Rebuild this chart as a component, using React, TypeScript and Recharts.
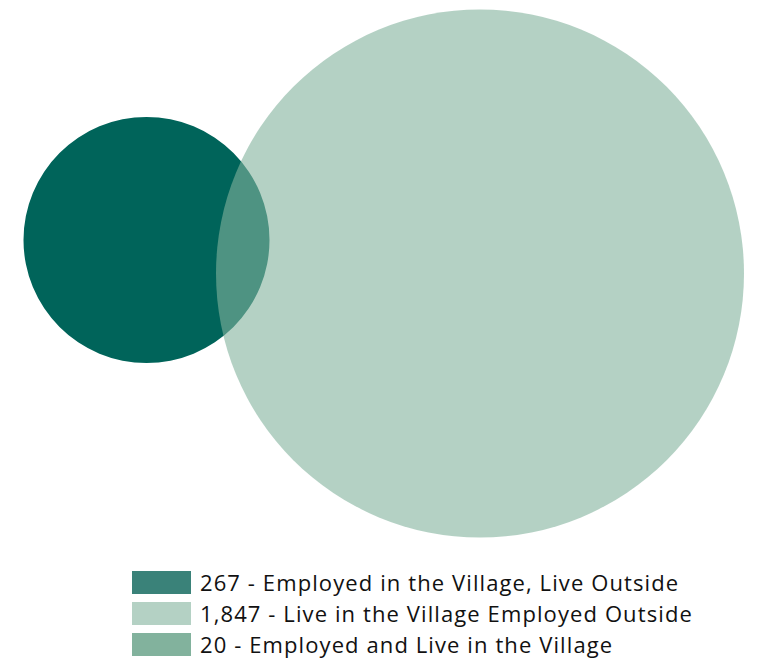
import React from "react";
import { ScatterChart, Scatter, XAxis, YAxis, ZAxis } from "recharts";

// Counts shown in the legend
const counts = [267, 1847, 20];
const labels = [
  "Employed in the Village, Live Outside",
  "Live in the Village Employed Outside",
  "Employed and Live in the Village",
];
const legendColors = ["#3A8279", "#B4D1C4", "#82B29D"];

// Venn circles (layout, in chart units)
const circleX = [146.5, 480];
const circleY = [240, 273.5];
const circleR = [123, 264];
const circleFill = ["#00645A", "#82B29D"];
const circleOpacity = [1, 0.6];

const W = 758;
const H = 660;

const circles = circleX.map((x, i) => ({
  x,
  y: circleY[i],
  z: Math.PI * circleR[i] * circleR[i],
}));

const fmt = (n: number) => n.toLocaleString("en-US");

export default function App() {
  return (
    <div style={{ position: "absolute", left: 0, top: 0, width: W, height: H }}>
      <ScatterChart width={W} height={H} margin={{ top: 0, right: 0, bottom: 0, left: 0 }}>
        <XAxis type="number" dataKey="x" domain={[0, W]} hide />
        <YAxis type="number" dataKey="y" domain={[0, H]} reversed hide />
        <ZAxis type="number" dataKey="z" domain={[0, 1000000]} range={[0, 1000000]} />
        {circles.map((c, i) => (
          <Scatter
            key={i}
            data={[c]}
            fill={circleFill[i]}
            fillOpacity={circleOpacity[i]}
            isAnimationActive={false}
          />
        ))}
      </ScatterChart>
      {counts.map((n, i) => (
        <div
          key={i}
          style={{
            position: "absolute",
            left: 132,
            top: 571 + i * 31,
            height: 23,
            display: "flex",
            alignItems: "center",
            whiteSpace: "nowrap",
          }}
        >
          <div style={{ width: 59, height: 23, background: legendColors[i] }} />
          <span
            style={{
              marginLeft: 9,
              marginTop: -2,
              fontFamily: "'Open Sans', sans-serif",
              fontSize: 22,
              letterSpacing: 1.1,
              color: "#111",
            }}
          >
            {fmt(n)} - {labels[i]}
          </span>
        </div>
      ))}
    </div>
  );
}
